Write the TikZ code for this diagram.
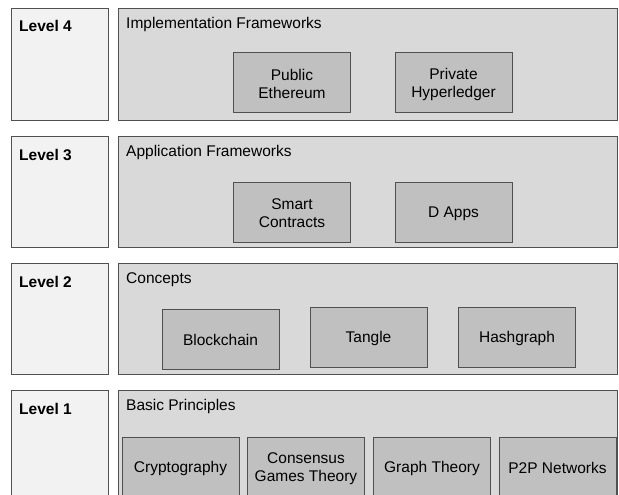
\documentclass[tikz,border=0pt]{standalone}
\usepackage{fontspec}
\setmainfont{Liberation Sans}
\definecolor{edge}{HTML}{505050}
\definecolor{labelfill}{HTML}{F2F2F2}
\definecolor{layerfill}{HTML}{D9D9D9}
\definecolor{itemfill}{HTML}{C0C0C0}
% uniform line box for the text inside the item boxes
\newcommand\istrut{\rule[-2pt]{0pt}{17pt}}
\tikzset{
  base/.style={draw=edge, line width=1pt, inner sep=0pt, outer sep=0pt},
  labelbox/.style={base, fill=labelfill, minimum width=97pt, minimum height=111pt},
  layerbox/.style={base, fill=layerfill, minimum width=499pt, minimum height=111pt},
  itembox/.style={base, fill=itemfill, minimum width=117pt, minimum height=60pt,
    align=center, font=\fontsize{15.5}{18}\selectfont},
  leveltext/.style={anchor=base west, inner sep=0pt, font=\fontsize{15.5}{18}\selectfont\bfseries},
  layertext/.style={anchor=base west, inner sep=0pt, font=\fontsize{15.5}{18}\selectfont},
}
\begin{document}
\begin{tikzpicture}[x=1pt, y=-1pt]
\useasboundingbox (0,0) rectangle (619,495);
\clip (0,0) rectangle (619,495);

% Level 4
\node[labelbox, anchor=north west] (l4) at (11,9) {};
\node[layerbox, anchor=north west] (f4) at (118,9) {};
\node[leveltext] (l4t) at (19,32) {Level 4};
\node[layertext] (f4t) at (126,29) {Implementation Frameworks};
\node[itembox] (eth) at (292,83) {Public\istrut\\Ethereum\istrut};
\node[itembox] (hyp) at (453.5,83) {Private\istrut\\Hyperledger\istrut};

% Level 3
\node[labelbox, anchor=north west] (l3) at (11,136) {};
\node[layerbox, anchor=north west] (f3) at (118,136) {};
\node[leveltext] (l3t) at (19,160) {Level 3};
\node[layertext] (f3t) at (126,156) {Application Frameworks};
\node[itembox] (sc) at (292,212) {Smart\istrut\\Contracts\istrut};
\node[itembox] (dapps) at (453.5,212) {D Apps\istrut};

% Level 2
\node[labelbox, anchor=north west] (l2) at (11,263) {};
\node[layerbox, anchor=north west] (f2) at (118,263) {};
\node[leveltext] (l2t) at (19,287) {Level 2};
\node[layertext] (f2t) at (126,283) {Concepts};
\node[itembox] (bc) at (220.5,339) {Blockchain\istrut};
\node[itembox] (tangle) at (368.5,337) {Tangle\istrut};
\node[itembox] (hash) at (517,337) {Hashgraph\istrut};

% Level 1
\node[labelbox, anchor=north west] (l1) at (11,390) {};
\node[layerbox, anchor=north west] (f1) at (118,390) {};
\node[leveltext] (l1t) at (19,414) {Level 1};
\node[layertext] (f1t) at (126,410) {Basic Principles};
\node[itembox] (crypto) at (180.5,467) {Cryptography\istrut};
\node[itembox] (cons) at (306,467) {Consensus\istrut\\Games Theory\istrut};
\node[itembox] (graph) at (432,467) {Graph Theory\istrut};
\node[itembox] (p2p) at (557.5,467) {P2P Networks\istrut};
\end{tikzpicture}
\end{document}
